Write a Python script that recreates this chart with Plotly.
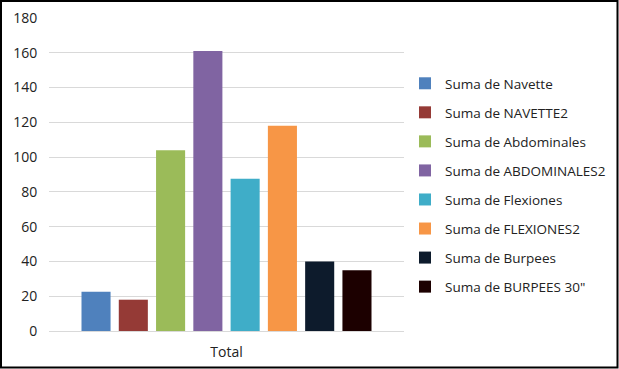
import plotly.graph_objects as go

categories = ["Total"]
series_names = ["Suma de Navette", "Suma de NAVETTE2", "Suma de Abdominales",
                "Suma de ABDOMINALES2", "Suma de Flexiones", "Suma de FLEXIONES2",
                "Suma de Burpees", "Suma de BURPEES 30''"]
series_values = [22.6, 18, 104, 161, 87.5, 118, 40, 35]
colors = ["#4f81bd", "#953a36", "#9bbb59", "#8064a2", "#3fadc8", "#f79646",
          "#0d1b2c", "#1c0000"]
y_ticks = [0, 20, 40, 60, 80, 100, 120, 140, 160, 180]

fig = go.Figure()
for i, (name, val, col) in enumerate(zip(series_names, series_values, colors)):
    fig.add_trace(go.Bar(x=categories, y=[val], name=name.replace("''", '"'),
                         marker=dict(color=col, line=dict(width=0)),
                         legendgroup=str(i)))

W, H = 619, 369
l, r, t, b = 49, 215, 18, 38
pw, ph = W - l - r, H - t - b

def px_to_paper_x(px):
    return (px - l) / pw

def px_to_paper_y(py):
    return (H - b - py) / ph

fig.update_layout(
    width=W, height=H,
    margin=dict(l=l, r=r, t=t, b=b, pad=0, autoexpand=False),
    paper_bgcolor="white", plot_bgcolor="white",
    barmode="group", bargap=0.16, bargroupgap=0.22,
    font=dict(family="Open Sans, Noto Sans, sans-serif", size=13, color="#222222"),
    showlegend=True,
    legend=dict(x=px_to_paper_x(405), y=px_to_paper_y(68), xanchor="left", yanchor="top",
                traceorder="grouped", tracegroupgap=8.5,
                font=dict(size=13.5, color="#222222"), itemwidth=30,
                bgcolor="rgba(0,0,0,0)"),
    xaxis=dict(showgrid=False, showline=False, ticks="", tickfont=dict(size=14),
               ticklabelstandoff=11),
    yaxis=dict(range=[0, 180], tickvals=y_ticks, showgrid=True, gridcolor="#d9d9d9",
               gridwidth=1, zeroline=True, zerolinecolor="#d9d9d9", zerolinewidth=1,
               showline=False, ticks="outside", ticklen=8, tickcolor="rgba(0,0,0,0)",
               ticksuffix="\u00a0", tickfont=dict(size=14)),
    shapes=[dict(type="rect", xref="paper", yref="paper",
                 x0=px_to_paper_x(1), x1=px_to_paper_x(617.5),
                 y0=px_to_paper_y(367.5), y1=px_to_paper_y(1),
                 line=dict(color="black", width=2), fillcolor="rgba(0,0,0,0)",
                 layer="above")],
)

fig.write_html("out.html", config={"displayModeBar": False},
               post_script="document.body.style.margin='0';document.body.style.padding='0';")
